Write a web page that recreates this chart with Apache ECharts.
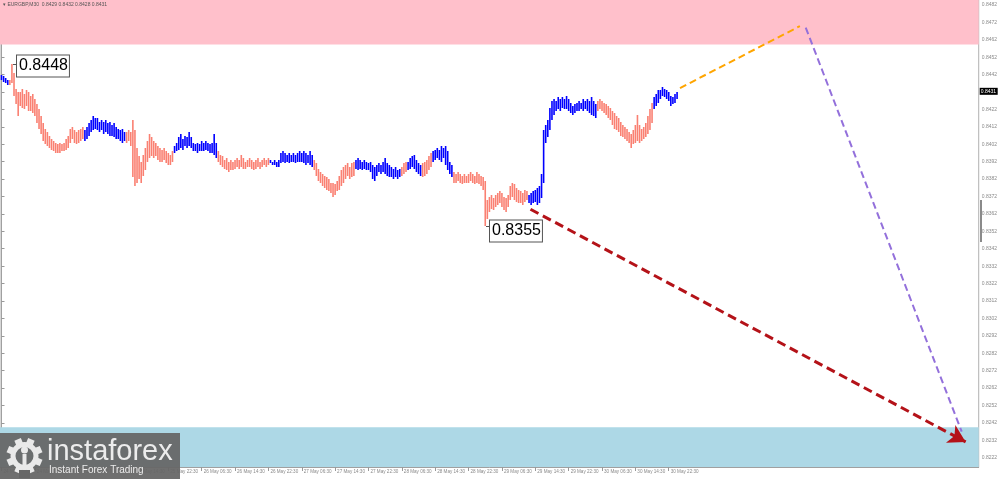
<!DOCTYPE html>
<html><head><meta charset="utf-8">
<script src="https://cdn.jsdelivr.net/npm/echarts@6/dist/echarts.min.js"></script>
<style>html,body{margin:0;padding:0;background:#fff}#c{width:1000px;height:479px}</style>
</head><body><div id="c"></div><script>
// ---------- data ----------
const symbolName = 'EURGBP,M30';
const lastOHLC = [0.8429, 0.8432, 0.8428, 0.8431];
const lastPrice = 0.8431;

const highs = [
.8442,.8441,.8440,.8439,.8439,.8448,.8443,.8434,.8432,.8432,
.8434,.8431,.8433,.8432,.8430,.8431,.8428,.8425,.8422,.8418,
.8414,.8411,.8409,.8407,.8405,.8404,.8403,.8402,.8403,.8402,
.8403,.8405,.8407,.8411,.8412,.8410,.8409,.8410,.8411,.8412,
.8410,.8412,.8414,.8416,.8418,.8417,.8417,.8415,.8416,.8415,
.8416,.8414,.8415,.8413,.8414,.8412,.8411,.8410,.8411,.8409,
.8409,.8410,.8409,.8416,.8410,.8400,.8395,.8392,.8396,.8400,
.8404,.8408,.8406,.8404,.8403,.8401,.8400,.8399,.8400,.8398,
.8397,.8396,.8398,.8401,.8403,.8406,.8408,.8405,.8407,.8406,
.8409,.8406,.8403,.8402,.8403,.8402,.8404,.8403,.8404,.8403,
.8402,.8403,.8408,.8403,.8398,.8396,.8395,.8393,.8394,.8392,
.8393,.8392,.8393,.8394,.8393,.8396,.8394,.8392,.8393,.8394,
.8393,.8392,.8393,.8394,.8392,.8393,.8394,.8393,.8394,.8393,
.8392,.8393,.8392,.8393,.8397,.8398,.8397,.8396,.8397,.8396,
.8397,.8396,.8397,.8398,.8397,.8398,.8397,.8396,.8398,.8396,
.8393,.8391,.8388,.8386,.8385,.8384,.8383,.8382,.8380,.8380,
.8379,.8381,.8384,.8387,.8389,.8390,.8391,.8389,.8391,.8392,
.8393,.8394,.8393,.8392,.8393,.8392,.8391,.8392,.8390,.8389,
.8390,.8391,.8390,.8392,.8394,.8391,.8390,.8389,.8388,.8389,
.8387,.8388,.8389,.8391,.8392,.8392,.8394,.8395,.8396,.8393,
.8391,.8390,.8391,.8392,.8393,.8395,.8397,.8398,.8399,.8400,
.8399,.8401,.8400,.8401,.8398,.8392,.8390,.8386,.8385,.8386,
.8385,.8384,.8385,.8384,.8385,.8386,.8385,.8384,.8386,.8385,
.8384,.8383,.8381,.8370,.8372,.8373,.8371,.8373,.8374,.8375,
.8374,.8372,.8371,.8373,.8378,.8380,.8379,.8377,.8376,.8375,
.8374,.8376,.8375,.8373,.8374,.8375,.8376,.8377,.8378,.8385,
.8410,.8413,.8416,.8423,.8427,.8428,.8427,.8429,.8428,.8429,
.8428,.8430,.8428,.8426,.8424,.8425,.8426,.8427,.8426,.8428,
.8427,.8428,.8427,.8429,.8427,.8425,.8427,.8428,.8427,.8426,
.8425,.8424,.8423,.8421,.8420,.8418,.8417,.8415,.8413,.8412,
.8411,.8409,.8408,.8410,.8413,.8419,.8413,.8411,.8412,.8414,
.8418,.8422,.8426,.8429,.8431,.8433,.8433,.8435,.8434,.8433,
.8432,.8430,.8429,.8431,.8432];

const lows = [
.8439,.8438,.8437,.8436,.8436,.8437,.8430,.8425,.8418,.8424,
.8423,.8422,.8424,.8421,.8421,.8420,.8418,.8414,.8411,.8408,
.8404,.8402,.8401,.8400,.8399,.8398,.8397,.8397,.8397,.8398,
.8398,.8399,.8400,.8403,.8405,.8403,.8402,.8403,.8404,.8405,
.8404,.8405,.8407,.8409,.8410,.8411,.8410,.8409,.8410,.8408,
.8409,.8408,.8407,.8407,.8406,.8405,.8405,.8404,.8403,.8404,
.8403,.8404,.8401,.8383,.8378,.8380,.8382,.8380,.8384,.8387,
.8392,.8394,.8395,.8394,.8395,.8393,.8392,.8392,.8393,.8391,
.8390,.8390,.8392,.8397,.8398,.8399,.8400,.8399,.8401,.8400,
.8401,.8400,.8398,.8398,.8397,.8398,.8398,.8398,.8399,.8398,
.8397,.8397,.8396,.8394,.8392,.8390,.8389,.8388,.8387,.8386,
.8387,.8387,.8388,.8389,.8388,.8389,.8388,.8388,.8389,.8389,
.8388,.8387,.8388,.8389,.8388,.8389,.8390,.8389,.8390,.8391,
.8390,.8390,.8389,.8389,.8391,.8392,.8391,.8392,.8391,.8392,
.8392,.8391,.8392,.8392,.8392,.8391,.8390,.8391,.8390,.8389,
.8387,.8384,.8381,.8380,.8378,.8377,.8376,.8375,.8374,.8372,
.8373,.8375,.8376,.8378,.8380,.8382,.8384,.8382,.8383,.8384,
.8388,.8387,.8388,.8387,.8388,.8387,.8387,.8386,.8382,.8381,
.8384,.8386,.8385,.8386,.8385,.8384,.8383,.8383,.8382,.8383,
.8382,.8383,.8384,.8385,.8386,.8387,.8388,.8389,.8388,.8386,
.8385,.8384,.8383,.8384,.8385,.8387,.8389,.8392,.8393,.8394,
.8393,.8392,.8394,.8390,.8387,.8385,.8383,.8380,.8380,.8381,
.8380,.8379,.8380,.8380,.8380,.8381,.8380,.8379,.8380,.8379,
.8378,.8376,.8355,.8359,.8363,.8365,.8364,.8366,.8367,.8368,
.8366,.8364,.8363,.8366,.8370,.8372,.8370,.8369,.8368,.8368,
.8367,.8369,.8370,.8368,.8367,.8368,.8369,.8367,.8368,.8371,
.8380,.8403,.8406,.8410,.8416,.8419,.8421,.8422,.8421,.8423,
.8422,.8422,.8421,.8420,.8419,.8420,.8421,.8421,.8422,.8421,
.8422,.8421,.8420,.8419,.8418,.8417,.8421,.8422,.8421,.8420,
.8419,.8417,.8416,.8413,.8411,.8410,.8409,.8407,.8406,.8405,
.8404,.8403,.8400,.8402,.8403,.8404,.8403,.8404,.8405,.8406,
.8408,.8410,.8414,.8422,.8424,.8426,.8428,.8430,.8429,.8428,
.8427,.8424,.8425,.8426,.8428];

// bar index ranges of the upward (blue) waves
const blueRanges = [[0,3],[40,59],[83,103],[129,149],[170,191],[195,201],[207,216],[253,285],[313,324]];

const timeLabelIdx = [0,16,32,48,64,80,96,112,128,144,160,176,192,208,224,240,256,272,288,304,320];
const timeLabels = ['24 May 2022','24 May 14:30','24 May 22:30','25 May 06:30','25 May 14:30','25 May 22:30',
 '26 May 06:30','26 May 14:30','26 May 22:30','27 May 06:30','27 May 14:30','27 May 22:30',
 '28 May 06:30','28 May 14:30','28 May 22:30','29 May 06:30','29 May 14:30','29 May 22:30',
 '30 May 06:30','30 May 14:30','30 May 22:30'];

const priceTicks = [0.8222,0.8232,0.8242,0.8252,0.8262,0.8272,0.8282,0.8292,0.8302,0.8312,0.8322,0.8332,0.8342,
 0.8352,0.8362,0.8372,0.8382,0.8392,0.8402,0.8412,0.8422,0.8432,0.8442,0.8452,0.8462,0.8472,0.8482];

const xRange = [-0.72, 468.66];
const yRange = [0.82166, 0.84849];

const resistanceZone = [0.84594, 0.8485];
const supportZone = [0.8216, 0.82394];

const extremes = [[5, 0.8448], [232, 0.8355]];

const orangePath = [[325.4, 0.84343], [382.9, 0.84699]];
const purplePath = [[385.7, 0.84690], [460.5, 0.82369]];
const redPath = [[253.7, 0.83647], [462.4, 0.82310]];

// ---------- styles ----------
const C = {
  up: '#0000ff', down: '#fa8072', pink: '#ffc0cb', lblue: '#add8e6',
  orange: '#ffa500', purple: '#9370db', red: '#b41218', axis: '#a0a0a0', text: '#8a8a8a'
};
const isBlue = i => blueRanges.some(r => i >= r[0] && i <= r[1]);

const chart = echarts.init(document.getElementById('c'), null, {renderer: 'canvas'});
const barData = highs.map((h, i) => [i, lows[i], h]);
const zoneData = [[xRange[0], resistanceZone[0], resistanceZone[1], 0], [xRange[0], supportZone[0], supportZone[1], 1]];
const zoneColors = [C.pink, C.lblue];
const offsets = [2, 5];

const LOGO_Z = 100;
const logoFill = '#e9e9e9';
const gearTeeth = [];
for (let k = 0; k < 8; k++) {
  const a = k * Math.PI / 4 + Math.PI / 8;
  gearTeeth.push({type: 'rect', z: LOGO_Z + 1, x: 24.5 + 14.5 * Math.cos(a), y: 456 + 14.5 * Math.sin(a), rotation: -a,
    shape: {x: -3.5, y: -3.5, width: 7, height: 7}, style: {fill: logoFill}});
}

chart.setOption({
  animation: false,
  grid: {left: 0, right: 19, top: 0, bottom: 12, show: true, borderColor: '#b0b0b0', borderWidth: 1},
  xAxis: {
    type: 'value', min: xRange[0], max: xRange[1],
    splitLine: {show: false},
    axisLine: {show: true, lineStyle: {color: C.axis}},
    axisTick: {show: true, customValues: timeLabelIdx, length: 4, lineStyle: {color: '#999'}},
    axisLabel: {customValues: timeLabelIdx, formatter: v => timeLabels[timeLabelIdx.indexOf(v)] || '',
      fontSize: 4.6, color: C.text, align: 'left', margin: 2, padding: [0, 0, 0, 2], fontFamily: 'Liberation Sans'}
  },
  yAxis: {
    type: 'value', position: 'right', min: yRange[0], max: yRange[1], scale: true,
    splitLine: {show: false},
    axisLine: {show: true, lineStyle: {color: C.axis}},
    axisTick: {show: true, customValues: priceTicks, length: 3, lineStyle: {color: '#999'}},
    axisLabel: {customValues: priceTicks, formatter: v => v.toFixed(4), fontSize: 5, color: C.text,
      margin: 3, fontFamily: 'Liberation Sans'}
  },
  graphic: [
    {type: 'text', left: 3, top: 2, z: 50, style: {text: '▾ ' + symbolName + '  ' + lastOHLC.map(v => v.toFixed(4)).join(' '),
      fontSize: 5, fill: '#555', fontFamily: 'Liberation Sans'}},
    {type: 'rect', z: 50, shape: {x: 980, y: 200, width: 2, height: 42}, style: {fill: '#8a8a8a'}},
    {type: 'rect', z: LOGO_Z, shape: {x: 0, y: 433, width: 180, height: 46}, style: {fill: 'rgba(102,102,102,0.94)'}},
    {type: 'circle', z: LOGO_Z + 1, shape: {cx: 24.5, cy: 456, r: 11.5}, style: {fill: 'none', stroke: logoFill, lineWidth: 5}},
    ...gearTeeth,
    {type: 'circle', z: LOGO_Z + 2, shape: {cx: 24.5, cy: 450, r: 3.5}, style: {fill: logoFill}},
    {type: 'rect', z: LOGO_Z + 2, shape: {x: 22.5, y: 454, width: 4, height: 16}, style: {fill: logoFill}},
    {type: 'rect', z: LOGO_Z + 3, shape: {x: 19, y: 470, width: 11, height: 8}, style: {fill: '#666'}},
    {type: 'text', z: LOGO_Z + 2, x: 47, y: 437, style: {text: 'instaforex', fontSize: 29, fill: '#ececec',
      fontFamily: 'Liberation Sans', verticalAlign: 'top'}},
    {type: 'text', z: LOGO_Z + 2, x: 49, y: 465, style: {text: 'Instant Forex Trading', fontSize: 10, fill: '#ececec',
      fontFamily: 'Liberation Sans', verticalAlign: 'top'}}
  ],
  series: [
    {
      type: 'custom', name: 'zones', clip: true, z: 1, silent: true,
      data: zoneData, encode: {x: 0, y: [1, 2]},
      renderItem: (params, api) => {
        const cs = params.coordSys;
        const top = api.coord([xRange[0], api.value(2)])[1];
        const bot = api.coord([xRange[0], api.value(1)])[1];
        return {type: 'rect', shape: {x: cs.x, y: top, width: cs.width, height: bot - top},
          style: {fill: zoneColors[api.value(3)]}};
      }
    },
    {
      type: 'custom', name: 'bars', z: 3, silent: true,
      data: barData, encode: {x: 0, y: [1, 2]},
      renderItem: (params, api) => {
        const i = api.value(0);
        const t = api.coord([i, api.value(2)]);
        const b = api.coord([i, api.value(1)]);
        const y0 = Math.round(t[1]), y1 = Math.round(b[1]);
        return {type: 'rect', shape: {x: t[0] - 0.8, y: y0, width: 1.6, height: Math.max(1, y1 - y0)},
          style: {fill: isBlue(i) ? C.up : C.down}};
      }
    },
    {
      type: 'line', name: 'orange', z: 4, data: orangePath, symbol: 'none', silent: true,
      lineStyle: {color: C.orange, width: 2, type: [7, 4]},
      markLine: {
        silent: true, symbol: ['none', 'arrow'], symbolSize: [15, 17], label: {show: false},
        lineStyle: {color: C.red, width: 3, type: [9, 5], opacity: 1},
        data: [[{coord: redPath[0]}, {coord: redPath[1]}]]
      }
    },
    {
      type: 'line', name: 'purple', z: 4, data: purplePath, symbol: 'none', silent: true,
      lineStyle: {color: C.purple, width: 2, type: [7, 4]}
    },
    {
      type: 'custom', name: 'extremes', z: 6, clip: false, silent: true,
      data: extremes, encode: {x: 0, y: 1},
      renderItem: (params, api) => {
        const p = api.coord([api.value(0), api.value(1)]);
        const x = Math.round(p[0]) + 1;
        const y = Math.round(p[1]);
        return {type: 'group', children: [
          {type: 'line', shape: {x1: x, y1: y + 0.5, x2: x + 4, y2: y + 0.5}, style: {stroke: '#555', lineWidth: 1}},
          {type: 'text', x: x + 4, y: y + offsets[params.dataIndex], style: {
            text: api.value(1).toFixed(4), fontSize: 16, fontFamily: 'Liberation Sans', fill: '#000',
            verticalAlign: 'middle', align: 'left', backgroundColor: '#fff', borderColor: '#555', borderWidth: 1,
            padding: [3, 1, 2, 2]}}
        ]};
      }
    },
    {
      type: 'custom', name: 'lastPrice', z: 7, clip: false, silent: true,
      data: [[xRange[1], lastPrice]], encode: {x: 0, y: 1},
      renderItem: (params, api) => {
        const p = api.coord([api.value(0), api.value(1)]);
        return {type: 'group', children: [
          {type: 'rect', shape: {x: p[0] + 1, y: p[1] - 6, width: 18, height: 7}, style: {fill: '#000'}},
          {type: 'text', x: p[0] + 2, y: p[1] - 2.5, style: {text: api.value(1).toFixed(4), fontSize: 5,
            fontFamily: 'Liberation Sans', fill: '#fff', verticalAlign: 'middle'}}
        ]};
      }
    }
  ]
});
</script></body></html>
